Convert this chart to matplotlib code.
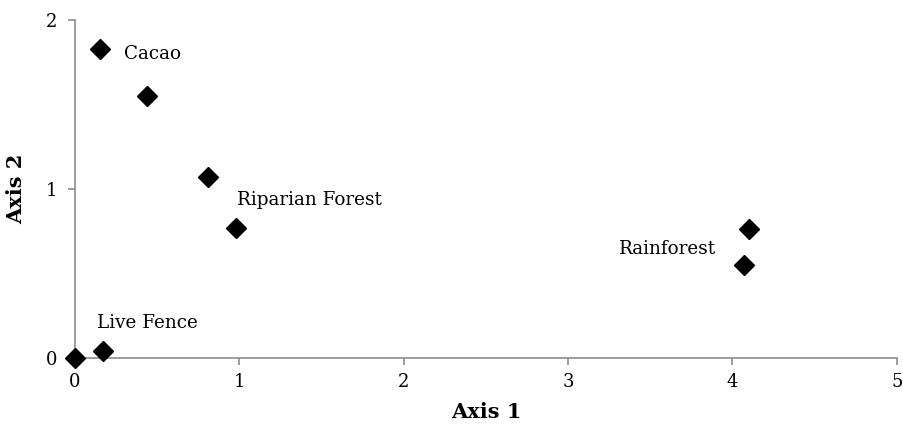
import matplotlib
matplotlib.use("Agg")
import matplotlib.pyplot as plt

# ordination scores
axis1 = [0.0, 0.17, 0.15, 0.44, 0.81, 0.98, 4.10, 4.07]
axis2 = [0.0, 0.04, 1.83, 1.55, 1.07, 0.77, 0.76, 0.55]

labels = ["Cacao", "Riparian Forest", "Rainforest", "Live Fence"]
label_x = [0.30, 0.985, 3.31, 0.135]
label_y = [1.80, 0.935, 0.645, 0.205]

plt.rcParams['font.family'] = ['DejaVu Serif']

fig = plt.figure(figsize=(9.04, 4.28), dpi=100)
ax = fig.add_axes([0.083, 0.164, 0.909, 0.789])

ax.plot(axis1, axis2, linestyle='none', marker='D', markersize=10,
        color='black', clip_on=False, zorder=3)

for name, lx, ly in zip(labels, label_x, label_y):
    ax.text(lx, ly, name, fontsize=13.2, va='center', ha='left')

ax.set_xlim(0, 5)
ax.set_ylim(0, 2)
ax.set_xticks([0, 1, 2, 3, 4, 5])
ax.set_yticks([0, 1, 2])

for side in ['top', 'right']:
    ax.spines[side].set_visible(False)
for side in ['left', 'bottom']:
    ax.spines[side].set_color('#8c8c8c')
    ax.spines[side].set_linewidth(1.2)
ax.tick_params(axis='both', direction='out', length=5, width=1.2,
               color='#8c8c8c', labelsize=13)
ax.tick_params(axis='x', pad=6)
ax.tick_params(axis='y', pad=8)

ax.set_xlabel("Axis 1", fontsize=15, fontweight='bold', labelpad=8)
ax.set_ylabel("Axis 2", fontsize=15, fontweight='bold', labelpad=14)

fig.savefig("out.png", dpi=100)
plt.close(fig)
